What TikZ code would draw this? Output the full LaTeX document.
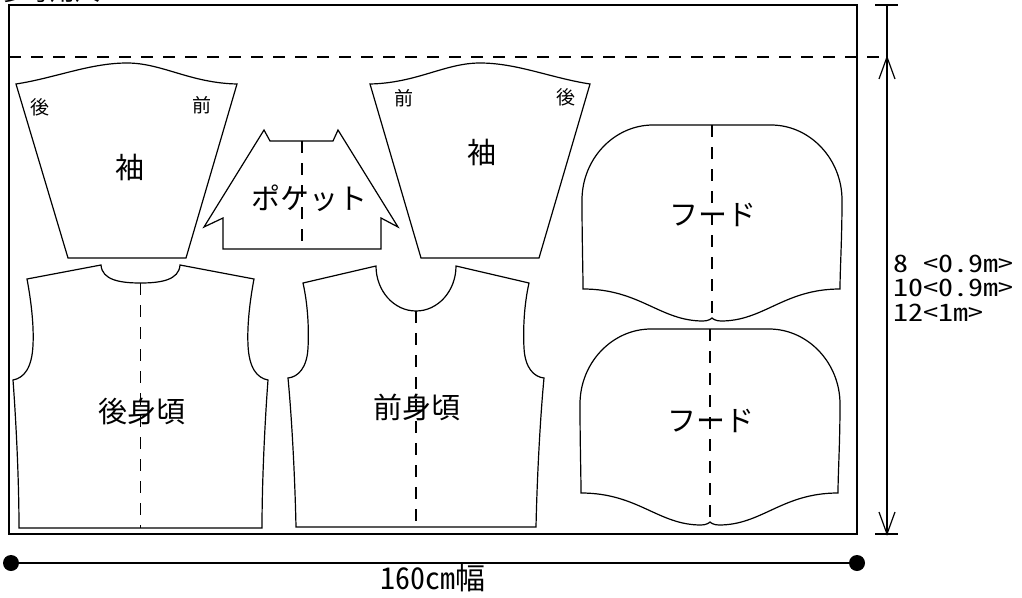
\documentclass[tikz,border=0pt]{standalone}
\usepackage{fontspec}
\newfontfamily\jp{Noto Sans CJK JP}
\newfontfamily\jphw[CharacterWidth=Half]{Noto Sans CJK JP}
\newfontfamily\jphwwide[CharacterWidth=Half,FakeStretch=1.25]{Noto Sans CJK JP}
\begin{document}
\begin{tikzpicture}[x=1pt,y=-1pt,
  piece/.style={draw=black, line width=1.2pt, line join=miter},
  fold/.style={draw=black, line width=1.2pt, dash pattern=on 12pt off 10pt},
  thinline/.style={draw=black, line width=1.2pt},
  big/.style={font=\jp\fontsize{29}{29}\selectfont, inner sep=0pt},
  small/.style={font=\jp\fontsize{19}{19}\selectfont, inner sep=0pt},
  meas/.style={font=\jphw\fontsize{30}{30}\selectfont, inner sep=0pt},
  measnarrow/.style={font=\jphwwide\fontsize{24}{24.5}\selectfont, inner sep=0pt},
]
\useasboundingbox (0,0) rectangle (1022,597);
\fill[white] (0,0) rectangle (1022,597);

% title (cut off at the top edge)
\node[anchor=base west, font=\jp\fontsize{25}{25}\selectfont, inner sep=0pt] (title) at (0,0.5) {参考用尺};

% fabric frame
\draw[line width=1.5pt] (9,5) rectangle (857,534);

% cut line
\coordinate (cutL) at (9,57);
\coordinate (cutR) at (887,57);
\draw[fold] (cutL) -- (cutR);

% vertical dimension
\coordinate (dimTop) at (887,5);
\coordinate (dimCut) at (887,57);
\coordinate (dimBot) at (887,534);
\draw[thinline] (dimTop) -- (dimBot);
\draw[thinline] (875,5) -- (898,5);
\draw[thinline] (875,534) -- (898,534);
\draw[thinline] (879,79) -- (dimCut) -- (895,79);
\draw[thinline] (879,512) -- (dimBot) -- (895,512);

\node[measnarrow, anchor=base west, align=left] (msizes) at (893,321) {8 <0.9m>\\10<0.9m>\\12<1m>};

% width dimension
\coordinate (wL) at (11,563);
\coordinate (wR) at (857,563);
\draw[line width=1.8pt] (wL) -- (wR);
\fill (wL) circle (8pt);
\fill (wR) circle (8pt);
\node[meas, anchor=base] (wtext) at (433,589) {160cm幅};

% sleeve 1
\draw[piece] (16,84) .. controls (55,78) and (90,63) .. (127,63)
  .. controls (162,63) and (190,83) .. (237,84) -- (186,258) -- (68,258) -- cycle;
\node[small] (s1b) at (40,107) {後};
\node[small] (s1f) at (202,105) {前};
\node[big] (sode1) at (130,167) {袖};

% sleeve 2
\draw[piece] (590,84) .. controls (551,78) and (517,63) .. (480,63)
  .. controls (445,63) and (417,83) .. (370,84) -- (421,258) -- (539,258) -- cycle;
\node[small] (s2f) at (404,98) {前};
\node[small] (s2b) at (566,97) {後};
\node[big] (sode2) at (482,152) {袖};

% pocket
\draw[piece] (264,130) -- (270,141) -- (333,141) -- (338,130) -- (398,227) -- (381,218)
  -- (381,249) -- (223,249) -- (223,218) -- (204,227) -- cycle;
\draw[fold] (302,141) -- (302,249);
\node[big] (pocket) at (309,198) {ポケット};

% back bodice
\draw[piece] (27,279) -- (101,265)
  .. controls (102,280) and (120,283) .. (140.5,283)
  .. controls (161,283) and (179,280) .. (180,265)
  -- (254,279)
  .. controls (250,300) and (247,325) .. (248,345)
  .. controls (249,368) and (257,378) .. (268,380)
  .. controls (265,420) and (262,480) .. (262,528)
  -- (19,528)
  .. controls (19,480) and (16,420) .. (13,380)
  .. controls (24,378) and (32,368) .. (33,345)
  .. controls (34,325) and (31,300) .. (27,279) -- cycle;
\draw[fold] (140.5,283) -- (140.5,528);
\node[big] (back) at (142,411) {後身頃};

% front bodice
\draw[piece] (303,283) -- (376,266)
  .. controls (376,291) and (394,311) .. (416,311)
  .. controls (438,311) and (456,291) .. (456,266)
  -- (529,283)
  .. controls (524,305) and (523,330) .. (524,348)
  .. controls (525,368) and (534,377) .. (544,378)
  .. controls (540,420) and (537,480) .. (536,527)
  -- (296,527)
  .. controls (295,480) and (292,420) .. (288,378)
  .. controls (298,377) and (307,368) .. (308,348)
  .. controls (309,330) and (308,305) .. (303,283) -- cycle;
\draw[fold] (416,311) -- (416,527);
\node[big] (front) at (417,407) {前身頃};

% hoods
\foreach \sx/\sy in {0/0, -2/204} {
  \begin{scope}[shift={(\sx,\sy)}]
    \draw[piece] (653,125) -- (771,125)
      .. controls (810,125) and (842,159) .. (842,200)
      .. controls (842,240) and (840,270) .. (840,289)
      .. controls (784,289) and (764,321) .. (721,321)
      .. controls (716,321) and (713,319) .. (712,318)
      .. controls (711,319) and (708,321) .. (703,321)
      .. controls (660,321) and (640,289) .. (583,289)
      .. controls (583,270) and (582,240) .. (582,200)
      .. controls (582,159) and (614,125) .. (653,125) -- cycle;
    \draw[fold] (712,125) -- (712,318);
  \end{scope}
}
\node[big] (hood1) at (713,215) {フード};
\node[big] (hood2) at (711,421) {フード};
\end{tikzpicture}
\end{document}
